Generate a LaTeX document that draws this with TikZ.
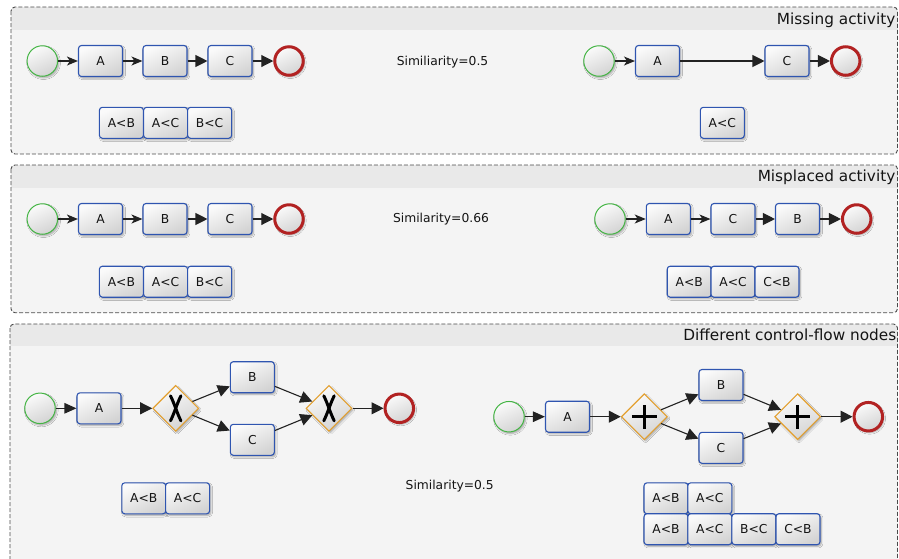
\documentclass[tikz,border=0pt]{standalone}
\usepackage{fontspec}
\setmainfont{DejaVu Sans}
\usetikzlibrary{arrows.meta,shapes.geometric,shadows.blur}
\definecolor{taskblue}{HTML}{2F55B0}
\definecolor{startgreen}{HTML}{44B544}
\definecolor{endred}{HTML}{B22222}
\definecolor{gworange}{HTML}{E3A030}
\definecolor{bodyfill}{HTML}{F4F4F4}
\definecolor{hdrfill}{HTML}{E9E9E9}
\definecolor{panelline}{HTML}{4A4A4A}
\definecolor{flowline}{HTML}{222222}
\definecolor{shadetop}{HTML}{FAFAFA}
\definecolor{shadebot}{HTML}{D3D3D3}
\tikzset{
  lbl/.style={font=\fontsize{12.3pt}{14pt}\selectfont, text=black!92},
  ttl/.style={font=\fontsize{15.3pt}{18pt}\selectfont, text=black!92, anchor=base east, inner sep=0pt},
  shadedfill/.style={top color=shadetop, bottom color=shadebot, shading angle=25},
  softshadow/.style={blur shadow={shadow xshift=1.3pt, shadow yshift=-1.6pt, shadow blur radius=1.6pt, shadow opacity=32, shadow blur steps=6}},
  task/.style={lbl, draw=taskblue, line width=1.1pt, rounded corners=3pt, minimum width=44pt, minimum height=31pt, inner sep=0pt, shadedfill, softshadow},
  cbox/.style={task},
  startev/.style={circle, draw=startgreen, line width=1pt, minimum size=30.5pt, inner sep=0pt, shadedfill, softshadow},
  endev/.style={circle, draw=endred, line width=3pt, minimum size=28.5pt, inner sep=0pt, shadedfill, softshadow},
  gw/.style={diamond, draw=gworange, line width=1.1pt, minimum width=46pt, minimum height=46pt, inner sep=0pt, shadedfill, softshadow},
  flowS/.style={draw=flowline, line width=1.1pt, -{Stealth[length=11pt,width=9pt,inset=3pt]}},
  flowT/.style={draw=flowline, line width=1.1pt, -{Triangle[length=12pt,width=12pt]}},
  flowM/.style={draw=flowline, line width=1.1pt, -{Triangle[length=12pt,width=10.5pt]}},
  panelborder/.style={draw=panelline, line width=0.9pt, dash pattern=on 4pt off 2pt, rounded corners=4pt},
  simtext/.style={lbl, inner sep=0pt}
}
\begin{document}
\begin{tikzpicture}[x=1pt,y=-1pt]
\useasboundingbox (0,0) rectangle (899,558);
% ---------- panels ----------
\begin{scope}
  \clip[rounded corners=4pt] (11,7) rectangle (897.5,154);
  \fill[bodyfill] (11,7) rectangle (897.5,154);
  \fill[hdrfill] (11,7) rectangle (897.5,30);
\end{scope}
\draw[panelborder] (11,7) rectangle (897.5,154);
\node[ttl] (t1) at (895.5,24) {Missing activity};

\begin{scope}
  \clip[rounded corners=4pt] (11,165) rectangle (897.5,312.7);
  \fill[bodyfill] (11,165) rectangle (897.5,312.7);
  \fill[hdrfill] (11,165) rectangle (897.5,187.7);
\end{scope}
\draw[panelborder] (11,165) rectangle (897.5,312.7);
\node[ttl] (t2) at (895.5,181.7) {Misplaced activity};

\begin{scope}
  \clip[rounded corners=4pt] (10,324) rectangle (897.5,580);
  \fill[bodyfill] (10,324) rectangle (897.5,580);
  \fill[hdrfill] (10,324) rectangle (897.5,345.7);
\end{scope}
\draw[panelborder] (10,324) rectangle (897.5,580);
\node[ttl] (t3) at (896.5,340) {Different control-flow nodes};

% ---------- panel 1 ----------
\node[startev] (p1s) at (42.3,61) {};
\node[task] (p1a) at (100.5,61) {A};
\node[task] (p1b) at (165,61) {B};
\node[task] (p1c) at (230,61) {C};
\node[endev] (p1e) at (289,61) {};
\draw[flowS] (p1s) -- (p1a);
\draw[flowS] (p1a) -- (p1b);
\draw[flowT] (p1b) -- (p1c);
\draw[flowT] (p1c) -- (p1e);
\node[cbox] (p1k1) at (121.4,122.8) {A<B};
\node[cbox] (p1k2) at (165.6,122.8) {A<C};
\node[cbox] (p1k3) at (209.6,122.8) {B<C};
\node[simtext] (p1sim) at (442.5,61.7) {Similiarity=0.5};

\node[startev] (q1s) at (599,61) {};
\node[task] (q1a) at (657.5,61) {A};
\node[task] (q1c) at (787,61) {C};
\node[endev] (q1e) at (845.7,61) {};
\draw[flowS] (q1s) -- (q1a);
\draw[flowT] (q1a) -- (q1c);
\draw[flowT] (q1c) -- (q1e);
\node[cbox] (q1k1) at (722.3,122.8) {A<C};

% ---------- panel 2 ----------
\node[startev] (p2s) at (42.3,219) {};
\node[task] (p2a) at (100.5,219) {A};
\node[task] (p2b) at (165,219) {B};
\node[task] (p2c) at (230,219) {C};
\node[endev] (p2e) at (289,219) {};
\draw[flowS] (p2s) -- (p2a);
\draw[flowS] (p2a) -- (p2b);
\draw[flowT] (p2b) -- (p2c);
\draw[flowT] (p2c) -- (p2e);
\node[cbox] (p2k1) at (121.4,281.7) {A<B};
\node[cbox] (p2k2) at (165.6,281.7) {A<C};
\node[cbox] (p2k3) at (209.6,281.7) {B<C};
\node[simtext] (p2sim) at (441,219) {Similarity=0.66};

\node[startev] (q2s) at (610,219) {};
\node[task] (q2a) at (668.3,219) {A};
\node[task] (q2c) at (733,219) {C};
\node[task] (q2b) at (797.5,219) {B};
\node[endev] (q2e) at (856.7,219) {};
\draw[flowS] (q2s) -- (q2a);
\draw[flowS] (q2a) -- (q2c);
\draw[flowT] (q2c) -- (q2b);
\draw[flowT] (q2b) -- (q2e);
\node[cbox] (q2k1) at (689.2,281.7) {A<B};
\node[cbox] (q2k2) at (733,281.7) {A<C};
\node[cbox] (q2k3) at (777,281.7) {C<B};

% ---------- panel 3 ----------
\node[startev] (p3s) at (40,408.3) {};
\node[task] (p3a) at (99,408.3) {A};
\node[gw] (p3g1) at (175.7,408.3) {};
\node[task] (p3b) at (252.3,377.2) {B};
\node[task] (p3c) at (252.3,439.8) {C};
\node[gw] (p3g2) at (329,408.3) {};
\node[endev] (p3e) at (399.3,408.3) {};
\foreach \g in {p3g1,p3g2}{
  \draw[line width=3pt, line cap=round, black] ([shift={(-5.2,-12.5)}]\g.center) .. controls ([shift={(-1,-4)}]\g.center) and ([shift={(1,4)}]\g.center) .. ([shift={(5.2,12.5)}]\g.center);
  \draw[line width=3pt, line cap=round, black] ([shift={(5.2,-12.5)}]\g.center) .. controls ([shift={(1,-4)}]\g.center) and ([shift={(-1,4)}]\g.center) .. ([shift={(-5.2,12.5)}]\g.center);
}
\draw[flowM] (p3s) -- (p3a);
\draw[flowT] (p3a) -- (p3g1);
\draw[flowT] (p3g1) -- (p3b);
\draw[flowT] (p3g1) -- (p3c);
\draw[flowT] (p3b) -- (p3g2);
\draw[flowT] (p3c) -- (p3g2);
\draw[flowT] (p3g2) -- (p3e);
\node[cbox] (p3k1) at (143.8,498.3) {A<B};
\node[cbox] (p3k2) at (187.6,498.3) {A<C};
\node[simtext] (p3sim) at (449.7,486.3) {Similarity=0.5};

\node[startev] (q3s) at (509,416.7) {};
\node[task] (q3a) at (567.5,416.7) {A};
\node[gw] (q3g1) at (644.3,416.7) {};
\node[task] (q3b) at (721,385) {B};
\node[task] (q3c) at (721,447.8) {C};
\node[gw] (q3g2) at (797.7,416.7) {};
\node[endev] (q3e) at (868.3,416.7) {};
\foreach \g in {q3g1,q3g2}{
  \draw[line width=3pt, black] ([xshift=-12.5pt]\g.center) -- ([xshift=12.5pt]\g.center);
  \draw[line width=3pt, black] ([yshift=-12pt]\g.center) -- ([yshift=12pt]\g.center);
}
\draw[flowM] (q3s) -- (q3a);
\draw[flowT] (q3a) -- (q3g1);
\draw[flowT] (q3g1) -- (q3b);
\draw[flowT] (q3g1) -- (q3c);
\draw[flowT] (q3b) -- (q3g2);
\draw[flowT] (q3c) -- (q3g2);
\draw[flowT] (q3g2) -- (q3e);
\node[cbox] (q3k1) at (666,498.3) {A<B};
\node[cbox] (q3k2) at (709.8,498.3) {A<C};
\node[cbox] (q3k3) at (666,529.2) {A<B};
\node[cbox] (q3k4) at (709.8,529.2) {A<C};
\node[cbox] (q3k5) at (753.9,529.2) {B<C};
\node[cbox] (q3k6) at (798,529.2) {C<B};
\end{tikzpicture}
\end{document}
